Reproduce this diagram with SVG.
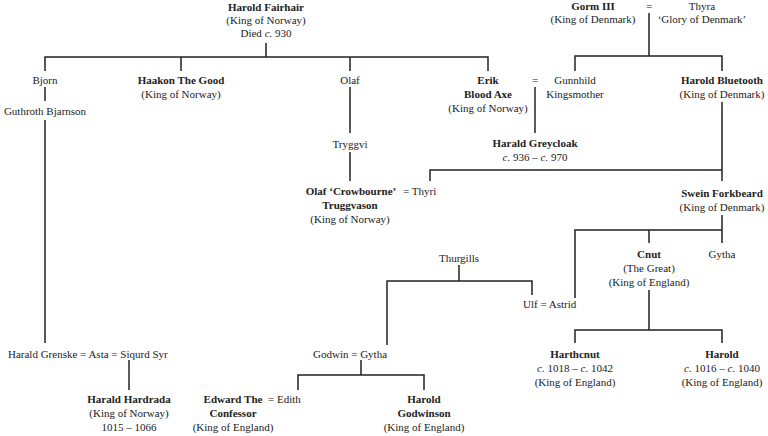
<svg xmlns="http://www.w3.org/2000/svg" width="768" height="436" viewBox="0 0 768 436">
<style>
text{font-family:"Liberation Serif","DejaVu Serif",serif;font-size:11px;fill:#222;text-anchor:middle}
.b{font-weight:bold}
.s{text-anchor:start}
#conn path{fill:none;stroke:#222;stroke-width:1.5}
</style>
<rect width="768" height="436" fill="#fff"/>
<g id="conn">
<path d="M266 43V57M45 71V57H488V71M181 57V71M350 57V71"/>
<path d="M45 87V101M45 120V343"/>
<path d="M350 87V133M350 152V181"/>
<path d="M535 87V133"/>
<path d="M649 13V56M575 71V56H722V71"/>
<path d="M722 102V181M430 181V170H722"/>
<path d="M722 215V230M575 298V230H722V243M649 230V243"/>
<path d="M459 265V281M387 345V281H532V295"/>
<path d="M649 290V330M575 343V330H722V343"/>
<path d="M129 360V390"/>
<path d="M361 360V375M298 390V375H424V390"/>
</g>
<g id="harold-fairhair"><text x="266" y="11" class="b">Harold Fairhair</text><text x="266" y="24">(King of Norway)</text><text x="266" y="37">Died <tspan font-style="italic">c.</tspan> 930</text></g>
<g id="gorm"><text x="593" y="10" class="b">Gorm III</text><text x="593" y="23">(King of Denmark)</text><text x="649" y="10">=</text></g>
<g id="thyra"><text x="702" y="10">Thyra</text><text x="702" y="23">‘Glory of Denmark’</text></g>
<g id="bjorn"><text x="45" y="84">Bjorn</text></g>
<g id="guthroth"><text x="45" y="115">Guthroth Bjarnson</text></g>
<g id="haakon"><text x="181" y="84" class="b">Haakon The Good</text><text x="181" y="98">(King of Norway)</text></g>
<g id="olaf"><text x="350" y="84">Olaf</text></g>
<g id="tryggvi"><text x="350" y="148">Tryggvi</text></g>
<g id="olaf-t"><text x="351" y="195" class="b">Olaf ‘Crowbourne’</text><text x="350" y="209" class="b">Truggvason</text><text x="350" y="223">(King of Norway)</text><text x="403" y="195" class="s">=  Thyri</text></g>
<g id="erik"><text x="488" y="84" class="b">Erik</text><text x="488" y="98" class="b">Blood Axe</text><text x="488" y="112">(King of Norway)</text><text x="535" y="84">=</text></g>
<g id="gunnhild"><text x="575" y="84">Gunnhild</text><text x="575" y="98">Kingsmother</text></g>
<g id="bluetooth"><text x="722" y="84" class="b">Harold Bluetooth</text><text x="722" y="98">(King of Denmark)</text></g>
<g id="greycloak"><text x="535" y="147" class="b">Harald Greycloak</text><text x="535" y="161"><tspan font-style="italic">c.</tspan> 936 – <tspan font-style="italic">c.</tspan> 970</text></g>
<g id="swein"><text x="722" y="197" class="b">Swein Forkbeard</text><text x="722" y="211">(King of Denmark)</text></g>
<g id="cnut"><text x="649" y="258" class="b">Cnut</text><text x="649" y="272">(The Great)</text><text x="649" y="286">(King of England)</text></g>
<g id="gytha-d"><text x="722" y="258">Gytha</text></g>
<g id="thurgills"><text x="459" y="262">Thurgills</text></g>
<g id="ulf"><text x="523" y="308" class="s">Ulf  =  Astrid</text></g>
<g id="harthcnut"><text x="575" y="358" class="b">Harthcnut</text><text x="575" y="372"><tspan font-style="italic">c.</tspan> 1018 – <tspan font-style="italic">c.</tspan> 1042</text><text x="575" y="386">(King of England)</text></g>
<g id="harold-h"><text x="722" y="358" class="b">Harold</text><text x="722" y="372"><tspan font-style="italic">c.</tspan> 1016 – <tspan font-style="italic">c.</tspan> 1040</text><text x="722" y="386">(King of England)</text></g>
<g id="grenske"><text x="8" y="358" class="s">Harald Grenske  = Asta  =  Siqurd Syr</text></g>
<g id="hardrada"><text x="129" y="403" class="b">Harald Hardrada</text><text x="129" y="417">(King of Norway)</text><text x="129" y="431">1015 – 1066</text></g>
<g id="godwin"><text x="313" y="358" class="s">Godwin  =  Gytha</text></g>
<g id="edward"><text x="233" y="403" class="b">Edward The</text><text x="233" y="417" class="b">Confessor</text><text x="233" y="431">(King of England)</text><text x="268" y="403" class="s">=  Edith</text></g>
<g id="godwinson"><text x="424" y="403" class="b">Harold</text><text x="424" y="417" class="b">Godwinson</text><text x="424" y="431">(King of England)</text></g>
</svg>
